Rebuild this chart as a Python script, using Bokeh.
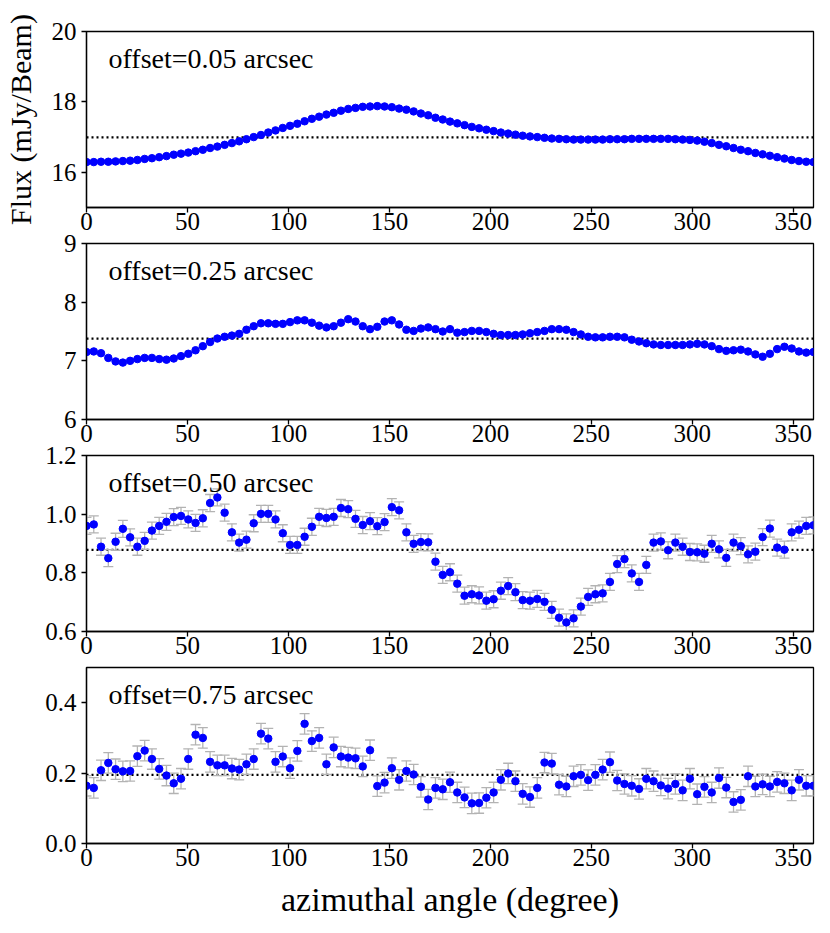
from bokeh.plotting import figure
from bokeh.layouts import column
from bokeh.models import Span, Label, FixedTicker, PrintfTickFormatter, Range1d
from bokeh.embed import file_html
from bokeh.resources import INLINE

# ---------------- data ----------------
angle = [round(i * 3.6, 1) for i in range(101)]  # azimuthal sampling (degree)

flux_005 = [16.29, 16.29, 16.30, 16.30, 16.31, 16.32, 16.33, 16.35, 16.38, 16.40,
            16.43, 16.46, 16.50, 16.53, 16.56, 16.60, 16.64, 16.69, 16.73, 16.78,
            16.83, 16.88, 16.94, 17.00, 17.06, 17.13, 17.19, 17.26, 17.32, 17.38,
            17.45, 17.52, 17.58, 17.64, 17.69, 17.75, 17.80, 17.83, 17.86, 17.87,
            17.88, 17.87, 17.85, 17.81, 17.78, 17.73, 17.67, 17.62, 17.55,
            17.50, 17.44, 17.39, 17.34, 17.29, 17.25, 17.21, 17.17, 17.13, 17.10,
            17.07, 17.04, 17.02, 17.00, 16.98, 16.96, 16.95, 16.94, 16.93, 16.93,
            16.93, 16.93, 16.93, 16.94, 16.94, 16.94, 16.95, 16.95, 16.95, 16.95,
            16.95, 16.95, 16.94, 16.93, 16.92, 16.90, 16.87, 16.83, 16.78, 16.74,
            16.69, 16.64, 16.60, 16.55, 16.51, 16.47, 16.43, 16.39, 16.35, 16.32,
            16.30, 16.29]

flux_025 = [7.15, 7.16, 7.13, 7.05, 6.99, 6.97, 7.00, 7.03, 7.05, 7.05,
            7.03, 7.02, 7.04, 7.08, 7.12, 7.18, 7.25, 7.32, 7.38, 7.41,
            7.43, 7.46, 7.53, 7.59, 7.64, 7.64, 7.63, 7.63, 7.66, 7.69,
            7.69, 7.65, 7.60, 7.57, 7.59, 7.65, 7.71, 7.67, 7.59, 7.54,
            7.58, 7.67, 7.69, 7.62, 7.53, 7.51, 7.55, 7.57, 7.54, 7.50,
            7.54, 7.48, 7.49, 7.51, 7.51, 7.49, 7.46, 7.44, 7.44, 7.44,
            7.45, 7.47, 7.49, 7.51, 7.54, 7.54, 7.53, 7.49, 7.45, 7.41,
            7.40, 7.40, 7.41, 7.41, 7.40, 7.36, 7.33, 7.30, 7.28, 7.27,
            7.27, 7.27, 7.27, 7.28, 7.29, 7.28, 7.25, 7.20, 7.17, 7.18,
            7.19, 7.16, 7.11, 7.07, 7.12, 7.20, 7.24, 7.21, 7.16, 7.14,
            7.15]

flux_050 = [0.960, 0.965, 0.889, 0.850, 0.906, 0.950, 0.921, 0.889, 0.909, 0.944,
            0.960, 0.974, 0.990, 0.994, 0.982, 0.970, 0.986, 1.038, 1.057, 1.005,
            0.938, 0.903, 0.913, 0.969, 1.001, 1.001, 0.982, 0.935, 0.895, 0.895,
            0.923, 0.957, 0.991, 0.987, 0.991, 1.021, 1.017, 0.984, 0.963, 0.976,
            0.959, 0.973, 1.024, 1.013, 0.938, 0.899, 0.905, 0.904, 0.838, 0.793,
            0.802, 0.763, 0.722, 0.727, 0.723, 0.705, 0.710, 0.739, 0.755, 0.734,
            0.707, 0.705, 0.711, 0.701, 0.674, 0.647, 0.631, 0.645, 0.685, 0.718,
            0.727, 0.730, 0.769, 0.830, 0.847, 0.798, 0.769, 0.827, 0.903, 0.907,
            0.877, 0.903, 0.889, 0.871, 0.870, 0.865, 0.899, 0.880, 0.851, 0.903,
            0.891, 0.863, 0.872, 0.922, 0.951, 0.886, 0.879, 0.938, 0.947, 0.960,
            0.962]

flux_075 = [0.164, 0.158, 0.208, 0.229, 0.211, 0.205, 0.206, 0.248, 0.264, 0.240,
            0.212, 0.193, 0.171, 0.184, 0.240, 0.309, 0.300, 0.232, 0.222, 0.222,
            0.213, 0.210, 0.225, 0.240, 0.312, 0.298, 0.232, 0.247, 0.214, 0.263,
            0.340, 0.291, 0.300, 0.225, 0.273, 0.247, 0.244, 0.242, 0.219, 0.265,
            0.163, 0.173, 0.214, 0.181, 0.206, 0.196, 0.161, 0.125, 0.158, 0.154,
            0.174, 0.145, 0.131, 0.114, 0.115, 0.130, 0.145, 0.181, 0.199, 0.177,
            0.141, 0.132, 0.158, 0.230, 0.227, 0.167, 0.162, 0.191, 0.195, 0.180,
            0.195, 0.210, 0.231, 0.179, 0.169, 0.164, 0.155, 0.184, 0.177, 0.165,
            0.156, 0.169, 0.151, 0.184, 0.140, 0.161, 0.145, 0.186, 0.159, 0.118,
            0.124, 0.191, 0.162, 0.168, 0.162, 0.175, 0.171, 0.151, 0.181, 0.164,
            0.164]

err_050 = 0.029
err_075 = 0.029

mean_005 = 16.99
mean_025 = 7.38
mean_050 = 0.878
mean_075 = 0.195

labels = ["offset=0.05 arcsec", "offset=0.25 arcsec",
          "offset=0.50 arcsec", "offset=0.75 arcsec"]
y_limits = [(15, 20), (6, 9), (0.6, 1.2), (0.0, 0.5)]
y_ticks = [[16, 18, 20], [6, 7, 8, 9], [0.6, 0.8, 1.0, 1.2], [0.0, 0.2, 0.4]]
y_formats = ["%d", "%d", "%.1f", "%.1f"]
x_ticks = [0, 50, 100, 150, 200, 250, 300, 350]
y_title = "Flux (mJy/Beam)"
x_title = "azimuthal angle (degree)"

FONT = "Liberation Serif"
BLUE = "#0000ff"
GRAY = "#b3b3b3"
FRAME_H = 176
TOP0, TOP, BOT, BOT_LAST = 31, 20, 35, 86
OVERLAP = TOP + FRAME_H + BOT - 212   # panels repeat every 212 px


def make_panel(idx, vals, mean, err=None):
    first = idx == 0
    last = idx == 3
    lo, hi = y_limits[idx]
    p = figure(frame_width=727, frame_height=FRAME_H,
               x_range=Range1d(0, 360), y_range=Range1d(lo, hi),
               output_backend="svg", toolbar_location=None,
               min_border_left=85, min_border_right=16,
               min_border_top=TOP0 if first else TOP,
               min_border_bottom=BOT_LAST if last else BOT,
               margin=(0, 0, 0, 0) if first else (-OVERLAP, 0, 0, 0))
    p.grid.visible = False
    p.background_fill_color = "white"
    p.border_fill_color = None
    p.outline_line_color = "black"
    p.outline_line_width = 1.3
    p.xaxis.ticker = FixedTicker(ticks=x_ticks)
    p.yaxis.ticker = FixedTicker(ticks=y_ticks[idx])
    p.yaxis.formatter = PrintfTickFormatter(format=y_formats[idx])
    for ax in p.axis:
        ax.major_tick_in = 0
        ax.major_tick_out = 5
        ax.minor_tick_in = 0
        ax.minor_tick_out = 0
        ax.axis_line_color = "black"
        ax.axis_line_width = 1.3
        ax.major_tick_line_width = 1.3
        ax.major_tick_line_color = "black"
        ax.major_label_text_font = FONT
        ax.major_label_text_font_size = "25px"
        ax.major_label_text_color = "black"
        ax.axis_label_text_font = FONT
        ax.axis_label_text_font_style = "normal"
        ax.axis_label_text_color = "black"
    p.yaxis.major_label_standoff = 5
    p.xaxis.major_label_standoff = 0
    if last:
        p.xaxis.axis_label = x_title
        p.xaxis.axis_label_text_font_size = "34px"
        p.xaxis.axis_label_standoff = 12
    if first:
        p.yaxis.axis_label = y_title
        p.yaxis.axis_label_text_font_size = "30px"
        p.yaxis.axis_label_standoff = 12

    p.add_layout(Span(location=mean, dimension="width", line_color="black",
                      line_width=2.3, line_dash="2 3", level="underlay"))

    if err is not None:
        upper = [v + err for v in vals]
        lower = [v - err for v in vals]
        p.segment(x0=angle, y0=lower, x1=angle, y1=upper,
                  line_color=GRAY, line_width=1.3)
        p.scatter(angle, upper, marker="dash", size=10,
                  line_color=GRAY, line_width=1.3)
        p.scatter(angle, lower, marker="dash", size=10,
                  line_color=GRAY, line_width=1.3)

    p.scatter(angle, vals, size=7.5, fill_color=BLUE, line_color=BLUE)

    ytxt = hi - (27.0 / FRAME_H) * (hi - lo)
    p.add_layout(Label(x=10.9, y=ytxt, text=labels[idx], text_font=FONT,
                       text_font_size="28px", text_baseline="middle",
                       text_color="black"))
    return p


p1 = make_panel(0, flux_005, mean_005)
p2 = make_panel(1, flux_025, mean_025)
p3 = make_panel(2, flux_050, mean_050, err_050)
p4 = make_panel(3, flux_075, mean_075, err_075)

layout = column(p1, p2, p3, p4, spacing=0)

with open("out.html", "w") as f:
    f.write(file_html(layout, INLINE))
